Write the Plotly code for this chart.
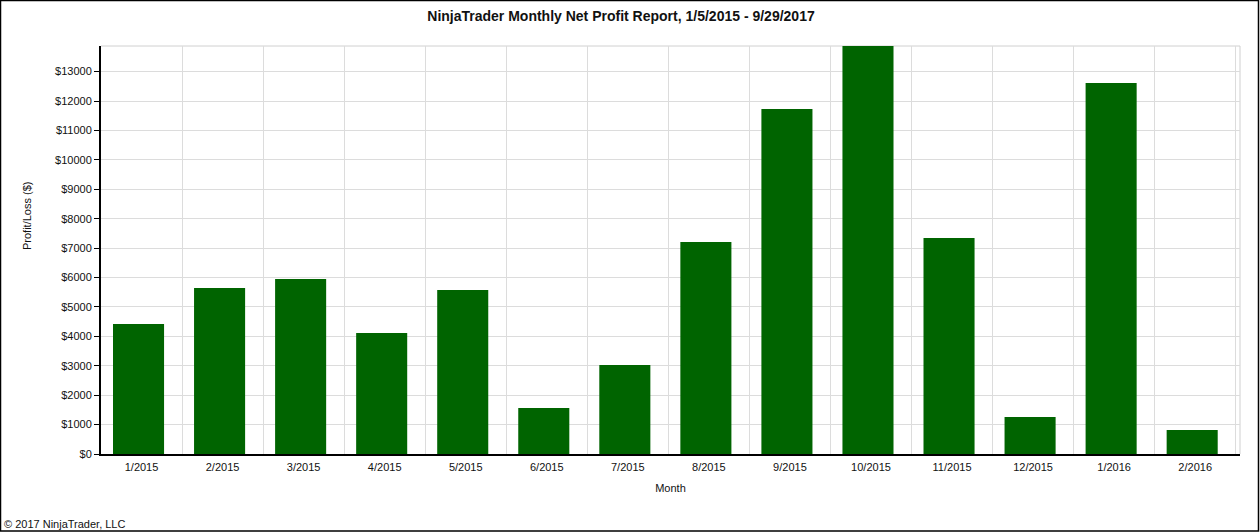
import plotly.graph_objects as go

months = ["1/2015", "2/2015", "3/2015", "4/2015", "5/2015", "6/2015", "7/2015",
          "8/2015", "9/2015", "10/2015", "11/2015", "12/2015", "1/2016", "2/2016"]
net_profit = [4418, 5643, 5949, 4112, 5575, 1561, 3024,
              7207, 11731, 13870, 7343, 1255, 12616, 813]

W, H = 1260, 532
L, R, T, B = 101, 1240, 46, 454  # plot area in pixels


def px(x):
    return (x - L) / (R - L)


def py(y):
    return (B - y) / (B - T)


fig = go.Figure()

fig.add_trace(go.Bar(
    x=months, y=net_profit,
    marker=dict(color="#006400", line=dict(width=0)),
    width=0.63, offset=-0.352,
    hoverinfo="x+y",
))

fig.update_layout(
    width=W, height=H,
    margin=dict(l=L, r=W - R, t=T, b=H - B),
    paper_bgcolor="white", plot_bgcolor="white",
    font=dict(family="Liberation Sans, Arial, sans-serif", size=11, color="#111"),
    showlegend=False,
    title=dict(text="<b>NinjaTrader Monthly Net Profit Report, 1/5/2015 - 9/29/2017</b>",
               font=dict(size=14, color="#111"), x=621 / W, xanchor="center",
               y=1 - 16 / H, yanchor="middle"),
    xaxis=dict(
        range=[-0.5, 13.553], tickson="boundaries", ticks="",
        showgrid=True, gridcolor="#dcdcdc", gridwidth=1,
        showline=True, linecolor="black", linewidth=2,
        title=dict(text="Month", font=dict(size=11, color="#111"), standoff=12),
        tickfont=dict(size=11, color="#111"), ticklabelstandoff=2,
    ),
    yaxis=dict(
        range=[0, 13870], dtick=1000, tick0=0, tickprefix="$", tickformat="d",
        ticks="outside", ticklen=5, tickcolor="black", tickwidth=1,
        showgrid=True, gridcolor="#dcdcdc", gridwidth=1, zeroline=False,
        showline=True, linecolor="black", linewidth=2,
        tickfont=dict(size=11, color="#111"),
    ),
    shapes=[
        # grey top and right edges of plot area
        dict(type="line", xref="paper", yref="paper", x0=0, x1=1, y0=1, y1=1,
             line=dict(color="#d0d0d0", width=1), layer="below"),
        dict(type="line", xref="paper", yref="paper", x0=1, x1=1, y0=0, y1=1,
             line=dict(color="#d0d0d0", width=1), layer="below"),
        # outer black frame
        dict(type="rect", xref="paper", yref="paper",
             x0=px(0.5), x1=px(1258.5), y0=py(531), y1=py(0.5),
             line=dict(color="black", width=1.5)),
    ],
    annotations=[
        dict(text="Profit/Loss ($)", xref="paper", yref="paper",
             x=px(27), y=py(216), textangle=-90, showarrow=False,
             xanchor="center", yanchor="middle", font=dict(size=11, color="#111")),
        dict(text="© 2017 NinjaTrader, LLC", xref="paper", yref="paper",
             x=px(2), y=py(524), showarrow=False,
             xanchor="left", yanchor="middle", font=dict(size=11, color="#111")),
    ],
)

# page has a default body margin; drop it so the figure sits at the corner
fig.write_html("out.html", config={"displayModeBar": False},
               post_script="document.body.style.margin='0';")
